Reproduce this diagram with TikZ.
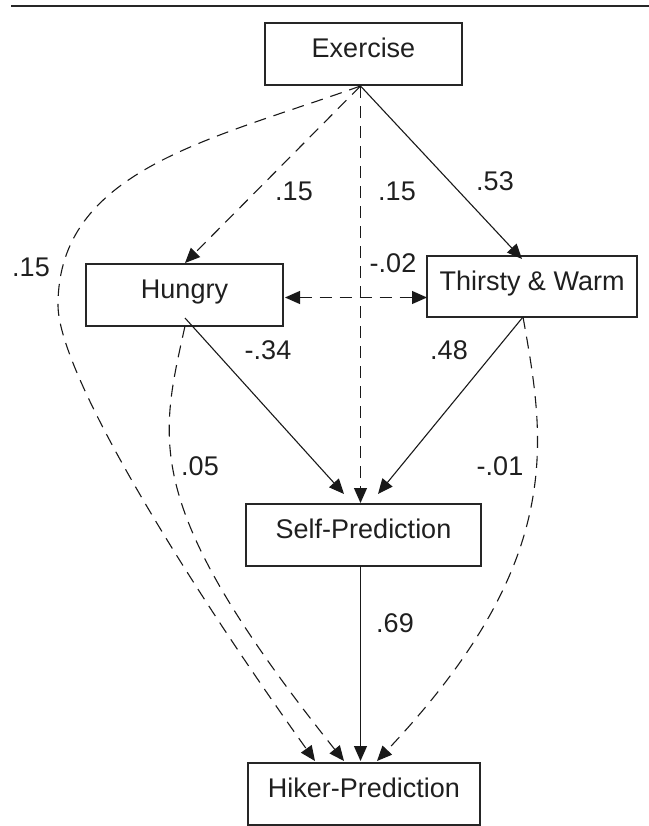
\documentclass[tikz,border=0pt]{standalone}
\usepackage{fontspec}
\setmainfont{Liberation Sans}
\usetikzlibrary{arrows.meta}
\newcommand\labfont{\fontsize{27bp}{32bp}\selectfont}
\begin{document}
\begin{tikzpicture}[x=1bp,y=-1bp,
  box/.style={draw=black!85, line width=1.4bp, minimum width=#1, minimum height=62bp,
    inner sep=0pt, font=\labfont, text=black!88, text height=0.716em, text depth=0pt},
  lbl/.style={font=\labfont, text=black!88, inner sep=0pt, text height=0.716em, text depth=0pt},
  tip/.tip={Triangle[length=15bp,width=13bp]},
  con/.style={line width=1.1bp, draw=black!90, -tip},
  dsh/.style={con, dash pattern=on 12bp off 8bp}]
\useasboundingbox (0,0) rectangle (649,826);
% top rule
\coordinate (rl) at (11,6);
\coordinate (rr) at (649,6);
\draw[line width=2.6bp, black!85] (rl) -- (rr);
% boxes
\node[box=197bp] (ex) at (363.5,54) {Exercise};
\node[box=197bp] (hu) at (184.5,295) {Hungry};
\node[box=210bp, minimum height=61bp] (th) at (532,286.5) {Thirsty \& Warm};
\node[box=235bp] (sp) at (363.5,535) {Self-Prediction};
\node[box=232bp] (hp) at (364,794) {Hiker-Prediction};
% connector points
\coordinate (o) at (360.5,86);
\coordinate (hus) at (185,318);
\coordinate (hud) at (185,326);
\coordinate (hut) at (185,263);
\coordinate (hue) at (285,297.5);
\coordinate (thw) at (427,297.5);
\coordinate (tho) at (523,317);
\coordinate (tht) at (522,259);
\coordinate (spa) at (344,494);
\coordinate (spb) at (360.5,503);
\coordinate (spc) at (378,494);
\coordinate (spo) at (360.5,566);
\coordinate (hpa) at (315,761);
\coordinate (hpb) at (344,761);
\coordinate (hpc) at (360.5,761);
\coordinate (hpd) at (377,761);
\coordinate (oc) at (58,305);
% connectors
\draw[dsh] (o) -- (hut);
\draw[con] (o) -- (tht);
\draw[dsh] (o) -- (spb);
\draw[dsh] (o) .. controls (210,140) and (58,170) .. (oc) .. controls (58,370) and (175,565) .. (hpa);
\draw[dsh, tip-tip] (hue) -- (thw);
\draw[con] (hus) -- (spa);
\draw[con] (tho) -- (spc);
\draw[dsh] (hud) .. controls (160,440) and (139,504) .. (hpb);
\draw[dsh] (tho) .. controls (545,440) and (567,560) .. (hpd);
\draw[con] (spo) -- (hpc);
% labels
\node[lbl] (l1) at (294,197) {.15};
\node[lbl] (l2) at (397,197) {.15};
\node[lbl] (l3) at (495,187) {.53};
\node[lbl] (l4) at (31,273) {.15};
\node[lbl] (l5) at (393,269) {-.02};
\node[lbl] (l6) at (268,356) {-.34};
\node[lbl] (l7) at (449,356) {.48};
\node[lbl] (l8) at (200,472) {.05};
\node[lbl] (l9) at (500,472) {-.01};
\node[lbl] (l10) at (395,629) {.69};
\end{tikzpicture}
\end{document}
